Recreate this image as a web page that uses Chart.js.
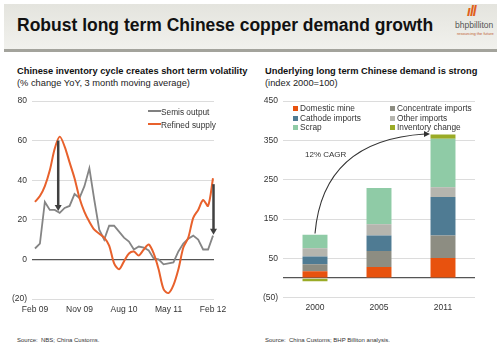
<!DOCTYPE html>
<html><head><meta charset="utf-8">
<script src="https://cdn.jsdelivr.net/npm/chart.js@4/dist/chart.umd.min.js"></script>
<style>
html,body{margin:0;padding:0;background:#fff;width:500px;height:357px;overflow:hidden;font-family:"Liberation Sans",Arial,sans-serif;}
.abs{position:absolute;white-space:nowrap;}
#band{left:4px;top:4px;width:493px;height:45px;background:linear-gradient(#e4e4de,#f1f1ed);}
#bar{left:4px;top:49px;width:493px;height:3px;background:#a3a39c;}
#title{left:17px;top:15px;font-size:17.5px;font-weight:bold;color:#111;}
.sub{font-size:9.3px;font-weight:bold;color:#111;}
.sub2{font-size:9.3px;color:#222;}
.src{font-size:6px;color:#333;}
.leg{font-size:8.3px;color:#333;}
.sq{display:inline-block;width:5px;height:5px;margin-right:2px;vertical-align:0px;}
</style></head><body>
<div class="abs" id="band"></div><div class="abs" id="bar"></div>
<div class="abs" id="title">Robust long term Chinese copper demand growth</div>
<div class="abs" style="left:455px;top:20px;font-size:8.5px;color:#555;">bhpbilliton</div>
<div class="abs" style="left:457px;top:31px;font-size:4px;color:#c06030;">resourcing the future</div>
<div class="abs" style="left:467px;top:3px;font-size:14px;font-weight:bold;font-style:italic;color:#e0601a;letter-spacing:-1px;">ıll</div>

<div class="abs sub" style="left:17px;top:66px;">Chinese inventory cycle creates short term volatility</div>
<div class="abs sub2" style="left:17px;top:78px;">(% change YoY, 3 month moving average)</div>
<div class="abs sub" style="left:265px;top:66px;">Underlying long term Chinese demand is strong</div>
<div class="abs sub2" style="left:265px;top:78px;">(index 2000=100)</div>

<canvas id="c1" class="abs" style="left:0px;top:90px;" width="230" height="230"></canvas>
<canvas id="c2" class="abs" style="left:250px;top:90px;" width="240" height="230"></canvas>

<div class="abs leg" style="left:148px;top:107px;"><span style="display:inline-block;width:13px;height:2px;background:#808080;vertical-align:3px;"></span>Semis output</div>
<div class="abs leg" style="left:148px;top:120px;"><span style="display:inline-block;width:13px;height:2px;background:#e8612c;vertical-align:3px;"></span>Refined supply</div>

<div id="leg2"></div>

<div class="abs" style="left:305px;top:150px;font-size:8px;color:#333;">12% CAGR</div>

<div class="abs src" style="left:17px;top:337px;">Source:&nbsp; NBS; China Customs.</div>
<div class="abs src" style="left:265px;top:337px;">Source:&nbsp; China Customs; BHP Billiton analysis.</div>

<script>
// ---- Left chart data (monthly, Feb 09 .. Feb 12) ----
const monthIdx = Array.from({length:37},(_,i)=>i);
const semisOutput = [5.5,8,29,25,25,23.5,26,27,33,31,37,46,30,15,10,17,17,14,11,9,5,6.5,6,4.5,0.5,0,-2.5,-2,-1.5,4,8,10.5,12,10,5,5,12];
const refinedSupply = [29,32,37,45,56,62,57,49,41,31,24,19,15,13,11,7,-2,-5,-1,3,4,2,5,7.5,3,-5,-15,-17,-13,-5,6,11,21,25,30,27,41];
const leftTickLabels = {0:'Feb 09',9:'Nov 09',18:'Aug 10',27:'May 11',36:'Feb 12'};

// ---- Right chart data ----
const years = ['2000','2005','2011'];
const domesticMine = [17,28,51];
const concentrateImports = [18,41,57];
const cathodeImports = [20,39,98];
const otherImports = [21,29,25];
const scrap = [34,92,123];
const inventoryChange = [-8.5,0,11];

const fontFam = '"Liberation Sans", Arial, sans-serif';
Chart.defaults.font.family = fontFam;
Chart.defaults.animation = false;

function paren(v){ return v<0 ? '('+Math.abs(v)+')' : String(v); }

const arrowPlugin = {
  id:'arrows',
  afterDatasetsDraw(chart){
    const {ctx, scales:{x,y}} = chart;
    const arrows = chart.options.plugins.arrows.list || [];
    ctx.save();
    ctx.strokeStyle = '#404040'; ctx.fillStyle = '#404040'; ctx.lineWidth = 2.5;
    arrows.forEach(a=>{
      const px = x.getPixelForValue(a.x), y1 = y.getPixelForValue(a.from), y2 = y.getPixelForValue(a.to);
      ctx.beginPath(); ctx.moveTo(px,y1); ctx.lineTo(px,y2-4); ctx.stroke();
      ctx.beginPath(); ctx.moveTo(px-3.5,y2-5); ctx.lineTo(px+3.5,y2-5); ctx.lineTo(px,y2+1); ctx.closePath(); ctx.fill();
    });
    ctx.restore();
  }
};

new Chart(document.getElementById('c1'), {
  type:'line',
  data:{ datasets:[
    {label:'Refined supply', data: monthIdx.map((m,i)=>({x:m,y:refinedSupply[i]})), borderColor:'#e8612c', borderWidth:2, pointRadius:0, tension:0.3},
    {label:'Semis output', data: monthIdx.map((m,i)=>({x:m,y:semisOutput[i]})), borderColor:'#858585', borderWidth:1.8, pointRadius:0, tension:0}
  ]},
  options:{
    responsive:false, maintainAspectRatio:false,
    layout:{padding:{top:11,right:16,left:0,bottom:0}},
    plugins:{legend:{display:false}, tooltip:{enabled:false}, arrows:{list:[{x:4.7,from:60,to:25},{x:36.1,from:38,to:13}]}},
    scales:{
      x:{type:'linear', min:-0.6, max:36.2,
        afterBuildTicks(s){ s.ticks = Object.keys(leftTickLabels).map(v=>({value:+v})); },
        ticks:{callback:(v)=>leftTickLabels[v]||'', color:'#333', font:{size:8.5}, padding:-2, maxRotation:0, autoSkip:false},
        grid:{display:false}, border:{display:false},
        afterFit(s){ s.height = 21; }
      },
      y:{min:-20, max:80,
        ticks:{stepSize:20, callback:paren, color:'#333', font:{size:8.5}, padding:5},
        grid:{color:(c)=>c.tick&&c.tick.value===0?'#555':'#dcdcdc', lineWidth:(c)=>c.tick&&c.tick.value===0?1.2:1, drawTicks:false},
        border:{display:false},
        afterFit(s){ s.width = 32; }
      }
    }
  },
  plugins:[arrowPlugin]
});

const curvePlugin = {
  id:'curve',
  afterDatasetsDraw(chart){
    const {ctx, scales:{x,y}} = chart;
    const x0 = x.getPixelForValue(0), y0 = y.getPixelForValue(113);
    const x2 = x.getPixelForValue(2)-14, y2 = y.getPixelForValue(366);
    const cx = x0+8, cy = y.getPixelForValue(350);
    ctx.save(); ctx.strokeStyle='#333'; ctx.fillStyle='#333'; ctx.lineWidth=1.1;
    ctx.beginPath(); ctx.moveTo(x0,y0); ctx.quadraticCurveTo(cx,cy,x2-4,y2); ctx.stroke();
    ctx.beginPath(); ctx.moveTo(x2+1,y2); ctx.lineTo(x2-5,y2-3); ctx.lineTo(x2-5,y2+3); ctx.closePath(); ctx.fill();
    ctx.restore();
  }
};

const colors = {dm:'#e8520e', ci:'#8d8d82', ca:'#4f7b93', oi:'#b5b5ae', sc:'#8fcba6', ic:'#9aab26'};
const ds2 = [
  {label:'Domestic mine', data:domesticMine, backgroundColor:colors.dm},
  {label:'Concentrate imports', data:concentrateImports, backgroundColor:colors.ci},
  {label:'Cathode imports', data:cathodeImports, backgroundColor:colors.ca},
  {label:'Other imports', data:otherImports, backgroundColor:colors.oi},
  {label:'Scrap', data:scrap, backgroundColor:colors.sc},
  {label:'Inventory change', data:inventoryChange, backgroundColor:colors.ic}
];
ds2.forEach(d=>{d.barPercentage=0.39; d.categoryPercentage=1; d.borderWidth=0;});

new Chart(document.getElementById('c2'), {
  type:'bar',
  data:{labels:years, datasets:ds2},
  options:{
    responsive:false, maintainAspectRatio:false,
    layout:{padding:{top:11,right:15,left:0,bottom:0}},
    plugins:{legend:{display:false}, tooltip:{enabled:false}},
    scales:{
      x:{stacked:true, grid:{display:false}, border:{display:false},
        ticks:{color:'#333', font:{size:8.5}, padding:-3}, afterFit(s){ s.height = 22.3; }},
      y:{stacked:true, min:-50, max:450,
        afterBuildTicks(s){ s.ticks = [-50,0,50,150,250,350,450].map(v=>({value:v})); },
        ticks:{callback:(v)=>v===0?'':paren(v), color:'#333', font:{size:8.5}, padding:5},
        grid:{color:(c)=>c.tick&&c.tick.value===0?'#555':'#dcdcdc', lineWidth:(c)=>c.tick&&c.tick.value===0?1.2:1, drawTicks:false},
        border:{display:false},
        afterFit(s){ s.width = 33; }
      }
    }
  },
  plugins:[curvePlugin]
});

// HTML legend for right chart
const legPos = [[293,103],[390,103],[293,112.5],[390,112.5],[293,122],[390,122]];
const leg2 = document.getElementById('leg2');
ds2.forEach((d,i)=>{
  const el = document.createElement('div');
  el.className='abs leg';
  el.style.left=legPos[i][0]+'px'; el.style.top=legPos[i][1]+'px';
  el.innerHTML = '<span class="sq" style="background:'+d.backgroundColor+'"></span>'+d.label;
  leg2.appendChild(el);
});
</script>
</body></html>
